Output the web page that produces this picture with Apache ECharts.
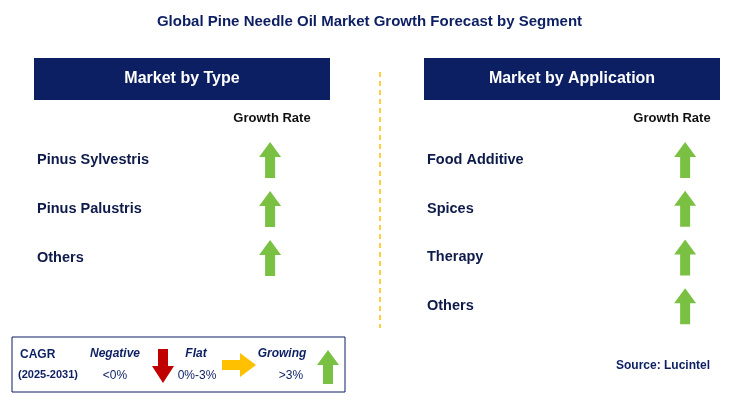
<!DOCTYPE html>
<html><head><meta charset="utf-8">
<script src="https://cdn.jsdelivr.net/npm/echarts@6/dist/echarts.min.js"></script>
<style>html,body{margin:0;padding:0;background:#fff}#c{width:739px;height:402px}</style>
</head><body><div id="c"></div>
<script>
const title = 'Global Pine Needle Oil Market Growth Forecast by Segment';
const typeCategories = ['Pinus Sylvestris', 'Pinus Palustris', 'Others'];
const typeGrowth = ['Growing', 'Growing', 'Growing'];
const appCategories = ['Food Additive', 'Spices', 'Therapy', 'Others'];
const appGrowth = ['Growing', 'Growing', 'Growing', 'Growing'];
const source = 'Source: Lucintel';

const NAVY = '#0d1f63', GREEN = '#7ac143', RED = '#c00000', YEL = '#ffc000';
const upArrow = 'path://M11,0 L22,15 L16,15 L16,36 L6,36 L6,15 L0,15 Z';
const F = 'Arial, "Liberation Sans", sans-serif';

const chart = echarts.init(document.getElementById('c'));
const yAx = (cats,gi)=>({type:'category',data:cats,inverse:true,gridIndex:gi,
  axisLine:{show:false},axisTick:{show:false},
  axisLabel:{inside:true,margin:0,align:'left',color:'#0d1a4a',fontSize:14.5,fontWeight:'bold',fontFamily:F}});
const xAx = gi=>({type:'value',min:0,max:1,gridIndex:gi,show:false});
chart.setOption({
  animation:false,
  grid:[{left:37,top:135.5,width:300,height:147},{left:427,top:135.5,width:295,height:195}],
  xAxis:[xAx(0),xAx(1)],
  yAxis:[yAx(typeCategories,0),yAx(appCategories,1)],
  series:[
    {type:'scatter',xAxisIndex:0,yAxisIndex:0,data:typeGrowth.map((v,i)=>[0.777,i]),symbol:upArrow,symbolSize:[22,36],itemStyle:{color:GREEN,opacity:1}},
    {type:'scatter',xAxisIndex:1,yAxisIndex:1,data:appGrowth.map((v,i)=>[0.875,i]),symbol:upArrow,symbolSize:[22,36],itemStyle:{color:GREEN,opacity:1}}
  ],
  graphic:[
    {type:'text',left:'center',top:14,style:{text:title,font:'bold 15px '+F,fill:NAVY}},
    {type:'rect',shape:{x:34,y:58,width:296,height:42},style:{fill:NAVY}},
    {type:'text',x:182,y:79,style:{text:'Market by Type',font:'bold 16px '+F,fill:'#fff',align:'center',verticalAlign:'middle'}},
    {type:'rect',shape:{x:424,y:58,width:296,height:42},style:{fill:NAVY}},
    {type:'text',x:572,y:79,style:{text:'Market by Application',font:'bold 16px '+F,fill:'#fff',align:'center',verticalAlign:'middle'}},
    {type:'text',x:272,y:118,style:{text:'Growth Rate',font:'bold 13px '+F,fill:'#111',align:'center',verticalAlign:'middle'}},
    {type:'text',x:672,y:118,style:{text:'Growth Rate',font:'bold 13px '+F,fill:'#111',align:'center',verticalAlign:'middle'}},
    {type:'line',shape:{x1:380,y1:72,x2:380,y2:328},style:{stroke:YEL,lineWidth:1.5,lineDash:[5,4]}},
    {type:'rect',shape:{x:12,y:337,width:333,height:55},style:{fill:'#fff',stroke:NAVY,lineWidth:1}},
    {type:'text',x:20,y:355,style:{text:'CAGR',font:'bold 12px '+F,fill:NAVY,verticalAlign:'middle'}},
    {type:'text',x:18,y:375,style:{text:'(2025-2031)',font:'bold 11px '+F,fill:NAVY,verticalAlign:'middle'}},
    {type:'text',x:115,y:354,style:{text:'Negative',font:'italic bold 12px '+F,fill:NAVY,align:'center',verticalAlign:'middle'}},
    {type:'text',x:115,y:376,style:{text:'<0%',font:'12px '+F,fill:NAVY,align:'center',verticalAlign:'middle'}},
    {type:'polygon',shape:{points:[[158,349],[168,349],[168,366],[174,366],[163,383],[152,366],[158,366]]},style:{fill:RED}},
    {type:'text',x:196,y:354,style:{text:'Flat',font:'italic bold 12px '+F,fill:NAVY,align:'center',verticalAlign:'middle'}},
    {type:'text',x:197,y:376,style:{text:'0%-3%',font:'12px '+F,fill:NAVY,align:'center',verticalAlign:'middle'}},
    {type:'polygon',shape:{points:[[222,360],[240,360],[240,353],[256,365],[240,377],[240,370],[222,370]]},style:{fill:YEL}},
    {type:'text',x:282,y:354,style:{text:'Growing',font:'italic bold 12px '+F,fill:NAVY,align:'center',verticalAlign:'middle'}},
    {type:'text',x:291,y:376,style:{text:'>3%',font:'12px '+F,fill:NAVY,align:'center',verticalAlign:'middle'}},
    {type:'polygon',shape:{points:[[328,350],[339,365],[333,365],[333,384],[323,384],[323,365],[317,365]]},style:{fill:GREEN}},
    {type:'text',x:710,y:366,style:{text:source,font:'bold 12px '+F,fill:NAVY,align:'right',verticalAlign:'middle'}}
  ]
});
</script></body></html>
